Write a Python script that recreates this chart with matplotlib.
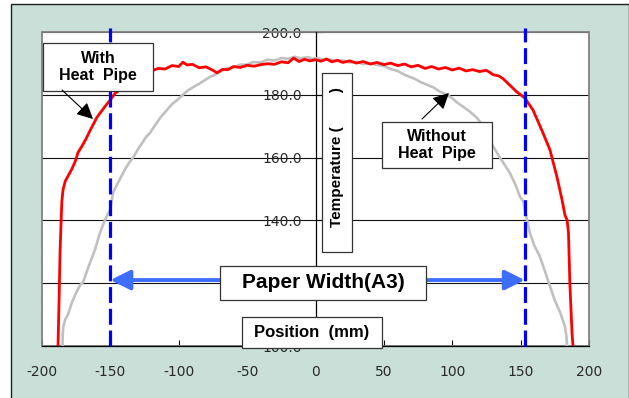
import matplotlib
matplotlib.use("Agg")
import matplotlib.pyplot as plt
from matplotlib.patches import Rectangle, FancyArrowPatch

plt.rcParams["axes.unicode_minus"] = False

W, H = 629, 398

# With Heat Pipe (red)
red_x = [-188.3, -187.5, -186.8, -186.0, -185.5, -184.6, -183.0, -180.5, -178.0, -175.5, -173.7, -171.0,
         -168.0, -165.0, -162.0, -160.0, -157.0, -153.5, -150.0, -146.5, -143.0, -138.0, -133.0, -128.0,
         -124.0, -120, -115, -110, -105, -100, -97, -94, -90, -85, -80, -75, -72, -68, -64, -60, -55, -50,
         -45, -40, -35, -30, -25, -20, -16, -12, -8, -4, 0, 4, 8, 12, 16, 20, 25, 30, 35, 40, 45, 50, 55,
         60, 65, 70, 75, 80, 85, 90, 95, 100, 105, 110, 115, 120, 125, 130, 134, 137, 142, 147, 153, 159,
         166.4, 171.5, 176.6, 180.3, 182.4, 184.0, 185.0, 186.0, 187.6, 188.3]
red_y = [100.0, 115.0, 130.0, 140.0, 146.0, 149.8, 152.5, 154.5, 156.5, 159.0, 161.6, 163.5,
         165.8, 168.5, 171.0, 172.7, 174.5, 176.5, 178.4, 180.5, 181.6, 183.5, 184.8, 185.7,
         186.6, 187.6, 188.4, 188.2, 189.3, 189.0, 190.4, 189.5, 189.7, 188.6, 188.9, 187.8, 187.0, 188.1,
         188.0, 189.0, 188.7, 189.4, 189.1, 189.6, 189.9, 189.7, 190.5, 190.2, 191.7, 190.6, 191.3, 190.8,
         191.2, 190.7, 191.4, 190.5, 191.0, 190.3, 190.8, 190.1, 190.6, 189.8, 190.3, 189.6, 190.1, 189.3,
         189.8, 188.9, 189.4, 188.4, 189.0, 188.2, 188.7, 187.9, 188.5, 187.6, 188.0, 187.4, 187.8, 186.4,
         186.0, 185.2, 183.1, 181.0, 179.0, 175.2, 167.8, 162.4, 153.8, 146.5, 141.7, 140.1, 136.0, 120.0,
         104.0, 100.0]

# Without Heat Pipe (gray)
gray_x = [-185.0, -184.8, -184.5, -183.0, -181.0, -178.0, -175.0, -172.0, -170.0, -167.0, -164.0, -161.0,
          -158.0, -155.0, -152.0, -150.0, -148.0, -145.0, -142.0, -139.0, -136.0, -133.0, -130.0, -127.0,
          -124.0, -121.0, -117.0, -113.0, -109.0, -105.0, -101.0, -97.0, -93.0, -88.0, -84.0, -78.0, -74.0,
          -70.0, -65.0, -60.0, -55.0, -50.0, -46.0, -40.0, -35.0, -30.0, -25.0, -20.0, -15.0, -11.0, -6.0,
          -2.0, 2.0, 6.0, 10.0, 15.0, 20.0, 25.0, 30.0, 35.0, 40.0, 45.0, 50.0, 55.0, 60.0, 65.0, 69.0,
          73.0, 77.0, 81.5, 86.0, 91.0, 96.0, 100.0, 104.0, 108.0, 113.0, 118.0, 122.0, 126.0, 130.0,
          134.0, 138.0, 142.0, 146.0, 149.5, 152.0, 154.0, 156.8, 160.0, 164.0, 168.0, 171.5, 175.0,
          178.8, 182.4, 183.5, 184.0]
gray_y = [100.0, 104.0, 106.0, 108.5, 110.0, 114.0, 117.0, 119.5, 120.3, 124.0, 127.5, 131.0,
          135.5, 139.0, 142.0, 143.5, 148.9, 151.5, 154.0, 156.5, 158.5, 160.3, 162.5, 164.5,
          166.5, 167.9, 170.5, 173.0, 175.0, 177.0, 178.4, 180.0, 181.5, 182.8, 183.8, 185.5, 186.3,
          187.3, 188.4, 188.7, 189.6, 189.6, 190.4, 190.3, 191.2, 190.9, 191.7, 191.5, 192.1, 191.6, 192.0,
          191.5, 191.7, 191.1, 191.3, 190.8, 190.9, 190.3, 190.5, 189.8, 190.0, 189.5, 189.2, 188.2, 187.6,
          186.4, 185.7, 185.0, 184.0, 183.2, 182.4, 181.0, 180.0, 178.9, 177.4, 176.2, 174.6, 172.7, 170.4,
          167.2, 163.5, 160.6, 157.9, 155.2, 151.6, 147.6, 146.0, 141.5, 136.0, 132.0, 128.6, 123.5, 119.0,
          114.5, 110.8, 106.3, 103.0, 100.0]

paper_edges = [-150, 153]
arrow_y = 121
x_ticks = [-200, -150, -100, -50, 0, 50, 100, 150, 200]
y_ticks = [100, 120, 140, 160, 180, 200]


def fx(px):
    return px / W


def fy(py):
    return 1 - py / H


def box(x0, y0, x1, y1, text, size, rot=0, dy=0):
    r = Rectangle((fx(x0), fy(y1)), (x1 - x0) / W, (y1 - y0) / H, transform=fig.transFigure,
                  facecolor="white", edgecolor="#333333", lw=0.9, zorder=5)
    fig.add_artist(r)
    fig.text(fx((x0 + x1) / 2), fy((y0 + y1) / 2 + dy), text, ha="center", va="center", fontsize=size,
             fontweight="bold", family="Liberation Sans", rotation=rot, zorder=6, linespacing=1.2)


def arrow(xa, ya, xb, yb):
    a = FancyArrowPatch((fx(xa), fy(ya)), (fx(xb), fy(yb)), transform=fig.transFigure,
                        arrowstyle="-|>,head_length=0.7,head_width=0.35", mutation_scale=14,
                        color="black", lw=0.8, shrinkA=0, shrinkB=0, zorder=6)
    fig.add_artist(a)


fig = plt.figure(figsize=(W / 100, H / 100), dpi=100)
fig.patch.set_facecolor("white")
frame = Rectangle((fx(11), -0.02), (W - 11) / W, fy(4) + 0.02, transform=fig.transFigure,
                  facecolor="#C9DFD7", edgecolor="#222222", lw=1.0, zorder=-1)
fig.add_artist(frame)

ax = fig.add_axes([fx(42), fy(346), 547 / W, 314 / H])
ax.set_facecolor("white")

ax.plot(gray_x, gray_y, color="#C0C0C0", lw=1.9, zorder=3)
ax.plot(red_x, red_y, color="#FF0000", lw=2.0, zorder=4)

for xe in paper_edges:
    ax.plot([xe, xe], [100, 201.3], color="#0000FF", lw=2.3, dashes=(5.0, 1.8), clip_on=False, zorder=5)

pw = FancyArrowPatch((paper_edges[0], arrow_y), (paper_edges[1], arrow_y),
                     arrowstyle="<|-|>,head_length=0.6,head_width=0.3", mutation_scale=20,
                     color="#3D6EFF", lw=2.8, shrinkA=0, shrinkB=0, zorder=4)
ax.add_patch(pw)

ax.set_xlim(-200, 200)
ax.set_ylim(100, 200)
ax.set_xticks(x_ticks)
ax.set_yticks(y_ticks)
ax.set_yticklabels([f"{v:.1f}" for v in y_ticks])
ax.yaxis.grid(True, color="#111111", lw=0.8)
ax.set_axisbelow(True)
ax.get_ygridlines()[-1].set_visible(False)

ax.spines["left"].set_position(("data", 0))
ax.spines["left"].set_color("black")
ax.spines["left"].set_linewidth(0.9)
ax.spines["bottom"].set_color("black")
ax.spines["bottom"].set_linewidth(0.9)
ax.spines["top"].set_visible(False)
ax.spines["right"].set_visible(False)
ax.add_patch(Rectangle((0, 0), 1, 1, transform=ax.transAxes, fill=False, edgecolor="#808080",
                       lw=1.3, clip_on=False, zorder=1))

ax.tick_params(axis="x", direction="in", length=4, pad=14, labelsize=10, labelcolor="#2a2a2a")
ax.tick_params(axis="y", direction="in", length=5, pad=10, labelsize=10, labelcolor="#2a2a2a")

box(43, 43, 153, 91, "With\nHeat  Pipe", 11.5)
arrow(62, 90, 93, 119)
box(382, 122, 492, 168, "Without\nHeat  Pipe", 11.5)
arrow(422, 119, 449, 93)
box(322, 73, 352, 252, "Temperature (        )", 11, rot=90, dy=-5)
box(220, 266, 426, 300, "Paper Width(A3)", 15)
box(242, 317, 382, 348, "Position  (mm)", 12)

fig.savefig("out.png", dpi=100)
